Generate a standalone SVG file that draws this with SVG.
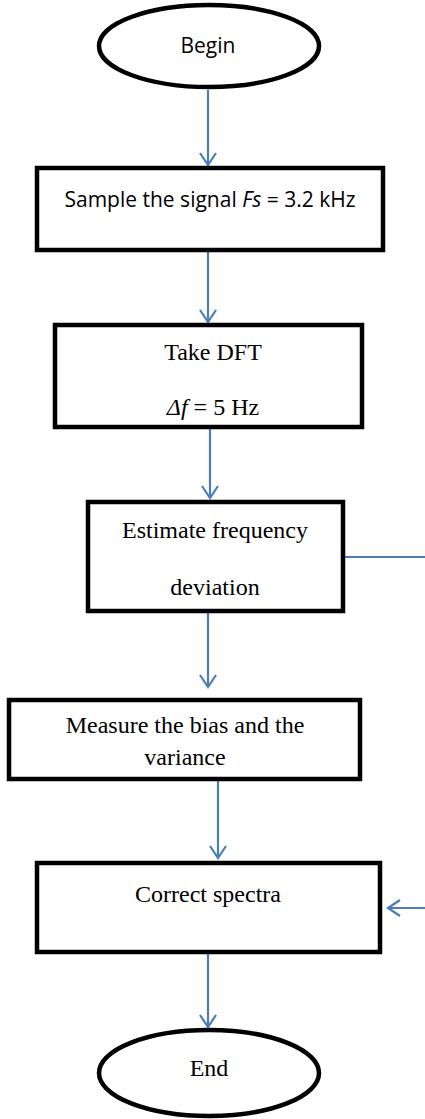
<svg xmlns="http://www.w3.org/2000/svg" width="425" height="1119" viewBox="0 0 425 1119">
<style>
.box{fill:#fff;stroke:#000;stroke-width:4.5}
.sans{font-family:"Open Sans","Liberation Sans",sans-serif;font-size:21px;fill:#000}
.serif{font-family:"Liberation Serif","Times New Roman",serif;font-size:24px;fill:#000}
.conn{stroke:#4a7ebb;stroke-width:2.2;fill:none}
</style>
<defs>
<marker id="arr" markerUnits="userSpaceOnUse" markerWidth="20" markerHeight="20" viewBox="-14 -10 16 20" refX="0" refY="0" orient="auto">
<path d="M-12,-8 L0,0 L-12,8" fill="none" stroke="#4a7ebb" stroke-width="2.2"/>
</marker>
</defs>
<rect width="425" height="1119" fill="#fff"/>
<g id="connectors">
<line class="conn" x1="208" y1="90" x2="208" y2="165" marker-end="url(#arr)"/>
<line class="conn" x1="208" y1="251" x2="208" y2="322" marker-end="url(#arr)"/>
<line class="conn" x1="210" y1="429" x2="210" y2="498" marker-end="url(#arr)"/>
<line class="conn" x1="208" y1="613" x2="208" y2="687" marker-end="url(#arr)"/>
<line class="conn" x1="218" y1="781" x2="218" y2="858" marker-end="url(#arr)"/>
<line class="conn" x1="208" y1="953" x2="208" y2="1027" marker-end="url(#arr)"/>
<line class="conn" x1="345" y1="557" x2="425" y2="557"/>
<line class="conn" x1="425" y1="908" x2="388" y2="908" marker-end="url(#arr)"/>
</g>
<g id="begin">
<ellipse class="box" cx="209" cy="46" rx="110" ry="41"/>
<text class="sans" x="208" y="53" text-anchor="middle">Begin</text>
</g>
<g id="sample">
<rect class="box" x="37" y="168" width="346" height="82"/>
<text class="sans" x="210" y="207" text-anchor="middle">Sample the signal <tspan font-style="italic">Fs</tspan> = 3.2 kHz</text>
</g>
<g id="dft">
<rect class="box" x="55" y="325" width="307" height="102"/>
<text class="serif" x="213" y="360" text-anchor="middle">Take DFT</text>
<text class="serif" x="213" y="415" text-anchor="middle"><tspan font-style="italic">Δf</tspan> = 5 Hz</text>
</g>
<g id="estimate">
<rect class="box" x="88" y="502" width="255" height="109"/>
<text class="serif" x="215" y="538" text-anchor="middle">Estimate frequency</text>
<text class="serif" x="215" y="595" text-anchor="middle">deviation</text>
</g>
<g id="measure">
<rect class="box" x="9" y="700" width="351" height="79"/>
<text class="serif" x="185" y="733" text-anchor="middle">Measure the bias and the</text>
<text class="serif" x="185" y="765" text-anchor="middle">variance</text>
</g>
<g id="correct">
<rect class="box" x="37" y="863" width="343" height="89"/>
<text class="serif" x="208" y="902" text-anchor="middle">Correct spectra</text>
</g>
<g id="end">
<ellipse class="box" cx="209" cy="1073" rx="110" ry="43"/>
<text class="serif" x="209" y="1076" text-anchor="middle">End</text>
</g>
</svg>
